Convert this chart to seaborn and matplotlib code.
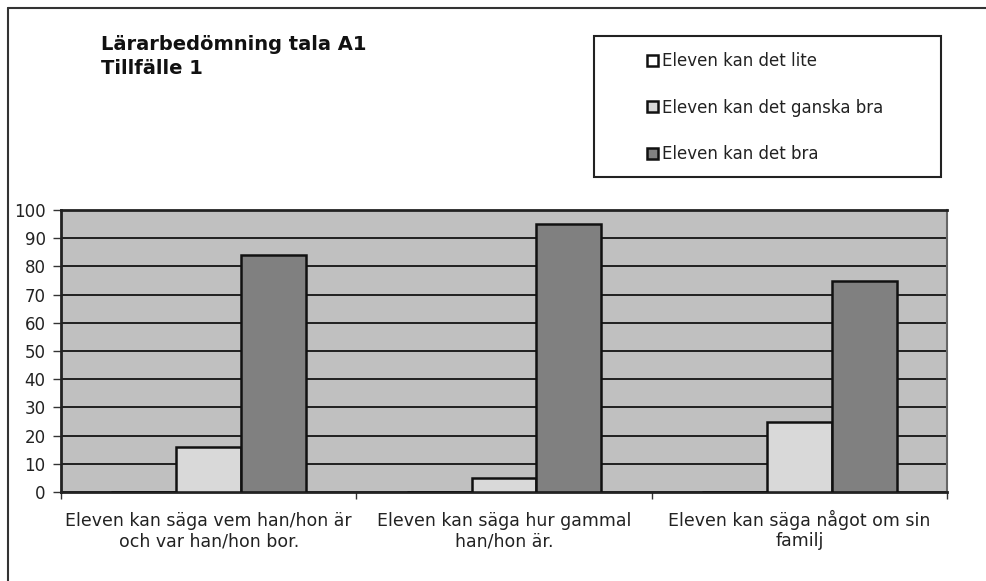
import matplotlib
matplotlib.use("Agg")
import matplotlib.pyplot as plt
from matplotlib.patches import Rectangle
from matplotlib.lines import Line2D
import pandas as pd
import seaborn as sns

# Survey data: teacher assessment of speaking, occasion 1 (percent of pupils)
categories = [
    "Eleven kan säga vem han/hon är\noch var han/hon bor.",
    "Eleven kan säga hur gammal\nhan/hon är.",
    "Eleven kan säga något om sin\nfamilj",
]
levels = ["Eleven kan det lite", "Eleven kan det ganska bra", "Eleven kan det bra"]
lite = [0, 0, 0]
ganska_bra = [16, 5, 25]
bra = [84, 95, 75]
yticks = list(range(0, 101, 10))

rows = []
for lvl, vals in zip(levels, [lite, ganska_bra, bra]):
    for cat, v in zip(categories, vals):
        rows.append({"Påstående": cat, "Nivå": lvl, "Procent": v})
df = pd.DataFrame(rows)

sns.set_theme(style="white")
plt.rcParams["font.family"] = ["DejaVu Sans"]

fig = plt.figure(figsize=(9.86, 5.81), dpi=100)
fig.patch.set_facecolor("white")
ax = fig.add_axes([61 / 986, 1 - 492 / 581, (947 - 61) / 986, (492 - 210) / 581])

palette = {levels[0]: "#FFFFFF", levels[1]: "#D9D9D9", levels[2]: "#808080"}
sns.barplot(data=df, x="Påstående", y="Procent", hue="Nivå", hue_order=levels,
            order=categories, palette=palette, width=0.66, gap=0,
            edgecolor="#111111", linewidth=1.8, saturation=1, ax=ax, legend=True, zorder=3)

ax.set_facecolor("#C0C0C0")
ax.set_ylim(0, 100)
ax.set_xlim(-0.5, 2.5)
ax.set_yticks(yticks)
ax.set_yticklabels([str(t) for t in yticks], fontsize=12, color="#222222")
ax.yaxis.grid(True, color="#202020", linewidth=1.4, zorder=1)
ax.set_axisbelow(True)
ax.set_xlabel("")
ax.set_ylabel("")
ax.tick_params(axis="y", which="major", direction="out", length=6, width=1, color="#333333", pad=5, left=True)
ax.tick_params(axis="x", which="major", length=0, pad=39, labelsize=12.5, labelcolor="#222222")
ax.set_xticks(range(len(categories)))
ax.set_xticklabels(categories, linespacing=1.15)
for lab in ax.get_xticklabels():
    lab.set_verticalalignment("baseline")
ax.set_xticks([-0.5, 0.5, 1.5, 2.5], minor=True)
ax.tick_params(axis="x", which="minor", direction="out", length=5, width=1, color="#333333", bottom=True)
for side in ["left", "top", "bottom"]:
    ax.spines[side].set_color("#222222")
    ax.spines[side].set_linewidth(2)
ax.spines["right"].set_color("#666666")
ax.spines["right"].set_linewidth(1.5)

# Legend in its own framed box above the plot area
handles, labels = ax.get_legend_handles_labels()
ax.get_legend().remove()
fig.patches.append(Rectangle((594 / 986, 1 - 177 / 581), (941 - 594) / 986, (177 - 36) / 581,
                             transform=fig.transFigure, facecolor="white",
                             edgecolor="#222222", linewidth=1.5, zorder=1))
leg = fig.legend(handles, labels, loc="upper left",
                 bbox_to_anchor=(639 / 986, 1 - 44 / 581), frameon=False,
                 fontsize=12, labelspacing=1.7, handlelength=0.65, handleheight=0.65,
                 handletextpad=0.2, borderpad=0)
for t in leg.get_texts():
    t.set_color("#222222")

# Title
fig.text(101 / 986, 1 - 35 / 581, "Lärarbedömning tala A1\nTillfälle 1",
         ha="left", va="top", fontsize=14, fontweight="bold", color="#111111", linespacing=1.3)

# Outer frame of the chart area (top and left edges)
fig.lines.append(Line2D([8 / 986, 1.0], [1 - 8 / 581, 1 - 8 / 581], transform=fig.transFigure,
                        color="#333333", linewidth=1.5))
fig.lines.append(Line2D([8 / 986, 8 / 986], [0, 1 - 8 / 581], transform=fig.transFigure,
                        color="#333333", linewidth=1.5))

fig.savefig("out.png", dpi=100, facecolor="white")
